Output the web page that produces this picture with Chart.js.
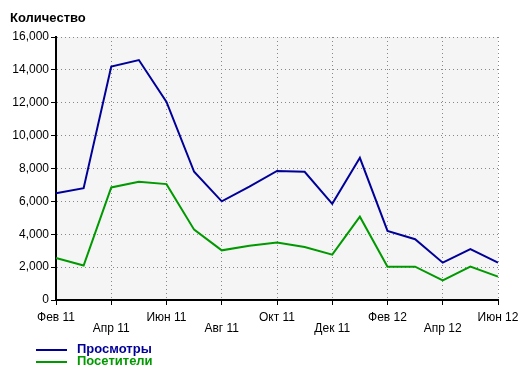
<!DOCTYPE html>
<html>
<head>
<meta charset="utf-8">
<script src="https://cdn.jsdelivr.net/npm/chart.js@4"></script>
<style>
  body { margin: 0; background: #fff; font-family: "Liberation Sans", Arial, sans-serif; }
  #wrap { position: relative; width: 526px; height: 370px; }
  #title { position: absolute; left: 10px; top: 10px; font: bold 13px "Liberation Sans", Arial, sans-serif; color: #000; }
  .leg { position: absolute; left: 36px; font: bold 13px "Liberation Sans", Arial, sans-serif; }
  .leg span { display: inline-block; width: 31px; height: 2px; vertical-align: middle; margin-right: 10px; }
</style>
</head>
<body>
<div id="wrap">
  <canvas id="myChart" width="526" height="370"></canvas>
  <div id="title">Количество</div>
  <div class="leg" style="top:341px;color:#000099"><span style="background:#000099"></span>Просмотры</div>
  <div class="leg" style="top:353px;color:#009900"><span style="background:#009900"></span>Посетители</div>
</div>
<script>
'use strict'
let months = ['Фев 11','Мар 11','Апр 11','Май 11','Июн 11','Июл 11','Авг 11','Сен 11','Окт 11',
  'Ноя 11','Дек 11','Янв 12','Фев 12','Мар 12','Апр 12','Май 12','Июн 12'];
let views = [6500, 6800, 14200, 14600, 12050, 7800, 6000, 6900, 7850, 7800, 5850, 8650, 4200, 3700, 2270, 3100, 2270];
let visitors = [2550, 2100, 6850, 7200, 7050, 4280, 3020, 3300, 3500, 3220, 2760, 5070, 2030, 2030, 1200, 2030, 1420];
let yTicks = [0, 2000, 4000, 6000, 8000, 10000, 12000, 14000, 16000];

// light grey behind the plot
let plotBg = {
  id: 'plotBg',
  beforeDraw(chart) {
    let a = chart.chartArea;
    chart.ctx.save();
    chart.ctx.fillStyle = '#f5f5f5';
    chart.ctx.fillRect(a.left, a.top, a.right - a.left, a.bottom - a.top);
    chart.ctx.restore();
  }
};

let tickFont = { family: '"Liberation Sans", Arial, sans-serif', size: 12, lineHeight: 0.95 };

const config = {
  type: 'line',
  data: {
    labels: months,
    datasets: [
      { label: 'Просмотры', data: views, borderColor: '#000099', borderWidth: 2, pointRadius: 0, tension: 0 },
      { label: 'Посетители', data: visitors, borderColor: '#009900', borderWidth: 2, pointRadius: 0, tension: 0 }
    ]
  },
  options: {
    responsive: false,
    animation: false,
    layout: { padding: { top: 37, right: 28, left: 0, bottom: 0 } },
    plugins: { legend: { display: false }, tooltip: { enabled: false } },
    scales: {
      x: {
        afterFit(scale) { scale.height = 70; },
        grid: {
          color: ctx => ctx.index % 2 ? 'rgba(0,0,0,0)' : '#888',
          tickColor: ctx => ctx.index % 2 ? 'rgba(0,0,0,0)' : '#000',
          tickLength: 5,
          tickBorderDash: []
        },
        border: { color: '#000', width: 2, dash: [1, 3] },
        ticks: {
          autoSkip: false,
          maxRotation: 0,
          padding: 7,
          color: '#000',
          font: tickFont,
          callback: (v, i) => i % 2 ? '' : (i % 4 === 0 ? months[i] : ['', months[i]])
        }
      },
      y: {
        min: 0,
        max: 16000,
        afterFit(scale) { scale.width = 56; },
        afterBuildTicks(scale) { scale.ticks = yTicks.map(v => ({ value: v })); },
        grid: { color: '#888', tickColor: '#000', tickLength: 5, tickBorderDash: [] },
        border: { color: '#000', width: 2, dash: [1, 3] },
        ticks: {
          padding: 2,
          color: '#000',
          font: { family: '"Liberation Sans", Arial, sans-serif', size: 12 },
          callback: v => v.toLocaleString('en-US')
        }
      }
    }
  },
  plugins: [plotBg]
};

var myChart = new Chart(document.getElementById('myChart'), config);
</script>
</body>
</html>
